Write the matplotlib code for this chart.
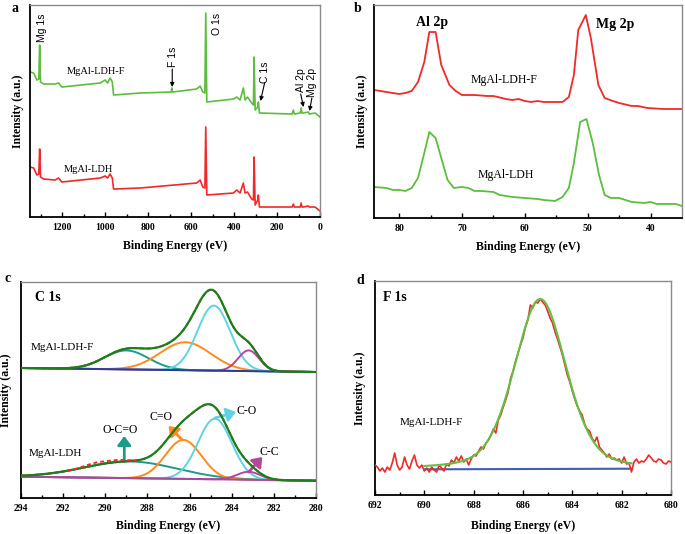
import numpy as np
import matplotlib
matplotlib.use('Agg')
import matplotlib.pyplot as plt

plt.rcParams['font.family'] = ['Liberation Serif', 'DejaVu Serif']

# ---------------- Panel a: survey spectra ----------------
a_e_f = [1349, 1333, 1318, 1309, 1305, 1301, 1287, 1233, 1217, 1202,
         1023, 1000, 989, 977, 967, 961, 837, 693, 690, 687,
         574, 558, 546, 536, 532, 527, 403, 388, 372, 357,
         349, 338, 318, 310, 307, 302, 290, 287, 282, 130,
         124, 120, 92, 88, 84, 78, 54, 50, 23, 0]
a_i_f = [145, 144, 137, 138, 172, 135, 133, 133, 134, 130,
         134, 137, 134, 139, 135, 122, 124, 125, 129, 125,
         128, 131, 125, 124, 204, 115, 118, 120, 117, 129,
         117, 120, 114, 112, 160, 107, 110, 115, 104, 103,
         107, 103, 104, 109, 104, 104, 105, 103, 104, 100]
a_e_l = [1349, 1333, 1318, 1309, 1305, 1301, 1287, 1233, 1217, 1202,
         1023, 1000, 989, 977, 967, 961, 837,
         574, 558, 546, 536, 532, 527, 403, 388, 372, 357,
         349, 338, 318, 310, 307, 302, 290, 287, 282, 130,
         124, 120, 92, 88, 84, 78, 54, 50, 23, 0]
a_i_l = [50, 49, 42, 43, 68, 40, 38, 37, 39, 35,
         39, 41, 39, 43, 39, 28, 29,
         34, 37, 30, 29, 90, 22, 24, 27, 24, 34,
         24, 25, 18, 17, 60, 12, 17, 22, 10, 10,
         13, 10, 10, 14, 10, 10, 11, 10, 10, 6]
a_ticks = [1200, 1000, 800, 600, 400, 200, 0]

# ---------------- Panel b: Al 2p / Mg 2p ----------------
b_e_f = [84, 82, 80, 79, 78, 77, 76, 75.2, 74.2, 73.3, 72, 71, 70, 68, 66, 65,
         63, 62, 61, 60, 59, 58, 57, 55, 54, 53, 52.2, 51.5, 50.3, 49.5, 48.3,
         47.3, 46, 45, 43, 42, 40.5, 38, 35]
b_i_f = [128, 126, 124, 125, 127, 136, 156, 186, 186, 153, 133, 127, 123, 123, 122, 122,
         119, 118, 119, 117, 116, 117, 116, 116, 116, 121, 143, 188, 203, 180, 133,
         120, 117, 115, 112, 112, 110, 109, 109]
b_e_l = [84, 82, 81, 80, 79, 78, 77, 76, 75.2, 74.2, 73.3, 72.3, 71.3, 70, 69, 68, 67,
         65, 64, 62, 60, 58, 57, 55.2, 54, 53, 52.2, 51.2, 50.2, 49.2, 48.2, 47.3,
         46.3, 45, 43, 41, 40, 39, 37, 36, 35]
b_i_l = [31, 30, 28, 28, 27, 30, 40, 65, 86, 80, 60, 38, 30, 31, 30, 27, 27,
         26, 23, 21, 20, 19, 18, 17, 21, 30, 55, 96, 99, 75, 43, 23,
         20, 20, 16, 15, 16, 14, 14, 14, 12]
b_ticks = [80, 70, 60, 50, 40]

# ---------------- Panel c: C 1s fits ----------------
c_names = ['O-C=O', 'C=O', 'C-O', 'C-C']
c_up_base = [130, 126]           # at 294 and 280 eV
c_up_center = [289.0, 286.2, 284.85, 283.2]
c_up_height = [19, 28, 65, 20.7]
c_up_sigma = [1.05, 1.2, 0.78, 0.5]
c_lo_base = [21.3, 17.3]
c_lo_center = [288.8, 286.3, 284.8, 283.2]
c_lo_height = [16.7, 39, 60.7, 8]
c_lo_sigma = [2.2, 0.85, 0.8, 0.55]
c_raw_lo_e = [291.8, 291.3, 290.85, 290.4, 289.9, 289.45, 289.0, 288.5]
c_raw_lo_i = [27.3, 29.7, 33, 35.7, 37, 38, 38, 37]
c_ticks = [294, 292, 290, 288, 286, 284, 282, 280]

# ---------------- Panel d: F 1s ----------------
d_e = [692.0, 691.9, 691.8, 691.7, 691.6, 691.5, 691.4, 691.3, 691.2, 691.1,
       691.0, 690.9, 690.8, 690.7, 690.6, 690.5, 690.4, 690.3, 690.2, 690.1,
       690.0, 689.9, 689.8, 689.7, 689.6, 689.5, 689.4, 689.3, 689.2, 689.1,
       689.0, 688.9, 688.8, 688.7, 688.6, 688.5, 688.4, 688.3, 688.2, 688.1,
       688.0, 687.9, 687.8, 687.7, 687.6, 687.5, 687.4, 687.3, 687.2, 687.1,
       687.0, 686.9, 686.8, 686.7, 686.6, 686.5, 686.4, 686.3, 686.2, 686.1,
       686.0, 685.9, 685.8, 685.7, 685.6, 685.5, 685.4, 685.3, 685.2, 685.1,
       685.0, 684.9, 684.8, 684.7, 684.6, 684.5, 684.4, 684.3, 684.2, 684.1,
       684.0, 683.9, 683.8, 683.7, 683.6, 683.5, 683.4, 683.3, 683.2, 683.1,
       683.0, 682.9, 682.8, 682.7, 682.6, 682.5, 682.4, 682.3, 682.2, 682.1,
       682.0, 681.9, 681.8, 681.7, 681.6, 681.5, 681.4, 681.3, 681.2, 681.1,
       681.0, 680.9, 680.8, 680.7, 680.6, 680.5, 680.4, 680.3, 680.2, 680.1, 680.0]
d_i = [30, 28, 24, 27, 23, 28, 25, 32, 42, 30,
       25, 28, 38, 30, 26, 34, 40, 30, 27, 30,
       24, 27, 23, 28, 25, 23, 30, 27, 24, 31,
       29, 35, 32, 38, 34, 39, 33, 36, 30, 36,
       40, 39, 44, 48, 46, 52, 55, 60, 66, 62,
       75, 80, 88, 95, 103, 117, 124, 134, 142, 150,
       157, 168, 175, 190, 187, 193, 192, 196, 193, 190,
       184, 177, 172, 163, 156, 148, 140, 130, 120, 113,
       104, 96, 89, 84, 80, 71, 66, 64, 57, 53,
       58, 48, 45, 42, 38, 41, 36, 37, 35, 36,
       32, 38, 31, 32, 23, 33, 36, 32, 34, 33,
       36, 40, 37, 34, 33, 36, 35, 32, 31, 34, 33]
d_fit_center = 685.3
d_fit_height = 170
d_fit_hwhm = 1.24
d_fit_eta = 0.3
d_fit_range = [690.0, 681.6]
d_base = [25.7, 26.3]
d_ticks = [692, 690, 688, 686, 684, 682, 680]

# ---------------- styling ----------------
RED = '#f02a2a'
GREEN = '#5cbd3f'
SANS = ['Liberation Sans', 'DejaVu Sans']

fig = plt.figure(figsize=(6.85, 5.34), dpi=100)
axa = fig.add_axes([0.0438, 0.5936, 0.4234, 0.397])
axb = fig.add_axes([0.546, 0.5918, 0.4496, 0.3988])
axc = fig.add_axes([0.0307, 0.0674, 0.4307, 0.4045])
axd = fig.add_axes([0.5474, 0.0730, 0.4321, 0.4007])


def style(ax, ticks, minor, xlim, ylim, xl, yl):
    ax.set_xlim(*xlim)
    ax.set_ylim(*ylim)
    for s in ['left', 'bottom']:
        ax.spines[s].set_color('black')
        ax.spines[s].set_linewidth(1.3)
    for s in ['top', 'right']:
        ax.spines[s].set_color('#8a8a8a')
        ax.spines[s].set_linewidth(1.0)
    ax.set_xticks(ticks)
    ax.set_xticklabels([str(t) for t in ticks], fontweight='bold', fontsize=7)
    ax.set_xticks(minor, minor=True)
    ax.tick_params(axis='x', which='both', direction='in', top=False, pad=4)
    ax.tick_params(axis='x', which='major', length=3.5, width=1)
    ax.tick_params(axis='x', which='minor', length=2.5, width=1)
    ax.set_yticks([])
    ax.set_xlabel('Binding Energy (eV)', fontweight='bold', fontsize=8.5)
    ax.set_ylabel('Intensity (a.u.)', fontweight='bold', fontsize=8.5)
    ax.xaxis.set_label_coords(0.5, xl)
    ax.xaxis.label.set_va('center')
    ax.yaxis.set_label_coords(yl, 0.5)
    ax.yaxis.label.set_va('center')


# Panel a
axa.plot(a_e_f, a_i_f, color=GREEN, lw=1.2)
axa.plot(a_e_l, a_i_l, color=RED, lw=1.2)
style(axa, a_ticks, list(range(1300, -1, -100)), (1350, 0), (0, 212), -0.135, -0.041)
axa.text(1042, 146, 'MgAl-LDH-F', fontsize=7.5, ha='center', va='center')
axa.text(1079, 48, 'MgAl-LDH', fontsize=7.5, ha='center', va='center')
axa.text(1295, 189, 'Mg 1s', rotation=90, ha='center', va='center', fontsize=7.5, family=SANS)
axa.text(480, 193, 'O 1s', rotation=90, ha='center', va='center', fontsize=7.5, family=SANS)
axa.text(686, 160, 'F 1s', rotation=90, ha='center', va='center', fontsize=7.5, family=SANS)
axa.text(256, 145, 'C 1s', rotation=90, ha='center', va='center', fontsize=7.5, family=SANS)
axa.text(90, 137, 'Al 2p', rotation=90, ha='center', va='center', fontsize=7.5, family=SANS)
axa.text(36, 135, 'Mg 2p', rotation=90, ha='center', va='center', fontsize=7.5, family=SANS)
arr = dict(arrowstyle='-|>', color='black', lw=0.8, mutation_scale=6, shrinkA=0, shrinkB=0)
axa.annotate('', xy=(688, 130), xytext=(688, 148), arrowprops=arr)
axa.annotate('', xy=(277, 116), xytext=(258, 134), arrowprops=arr)
axa.annotate('', xy=(77, 110), xytext=(90, 123), arrowprops=arr)
axa.annotate('', xy=(49, 106), xytext=(38, 119), arrowprops=arr)

# Panel b
axb.plot(b_e_f, b_i_f, color=RED, lw=1.3)
axb.plot(b_e_l, b_i_l, color=GREEN, lw=1.3)
style(axb, b_ticks, [75, 65, 55, 45], (84, 35), (0, 213), -0.136, -0.039)
axb.text(74.7, 196, 'Al 2p', fontsize=10, fontweight='bold', ha='center', va='center')
axb.text(45.7, 194, 'Mg 2p', fontsize=10, fontweight='bold', ha='center', va='center')
axb.text(63.3, 138, 'MgAl-LDH-F', fontsize=8.5, ha='center', va='center')
axb.text(63.1, 43, 'MgAl-LDH', fontsize=8.5, ha='center', va='center')

# Panel c
c_cols = ['#1f9a8a', '#ff8a1e', '#5fd3e3', '#b2479b']
xg = np.linspace(294, 280, 700)


def comps(base, cen, hei, sig):
    bl = np.interp(xg, [280, 294], [base[1], base[0]])
    cs = [h * np.exp(-(xg - c) ** 2 / (2 * s ** 2)) for c, h, s in zip(cen, hei, sig)]
    return bl, cs


for base, cen, hei, sig, bcol, bz in [(c_up_base, c_up_center, c_up_height, c_up_sigma, '#2a3f94', 3.5),
                                      (c_lo_base, c_lo_center, c_lo_height, c_lo_sigma, '#a64aa0', 3.5)]:
    bl, cs = comps(base, cen, hei, sig)
    env = bl + np.sum(cs, axis=0)
    axc.plot([294, 280], base, color=bcol, lw=1.4, zorder=bz)
    for comp, col in zip(cs, c_cols):
        axc.plot(xg, bl + comp, color=col, lw=1.4, zorder=3)
    axc.plot(xg, env, color=RED, lw=1.4, ls=(0, (2, 1.5)), zorder=4)
    axc.plot(xg, env, color='#1b7f1b', lw=1.6, zorder=5)
axc.plot(c_raw_lo_e, c_raw_lo_i, color=RED, lw=1.4, ls=(0, (2, 1.5)), zorder=6)
style(axc, c_ticks, list(range(293, 280, -2)), (294, 280), (0, 216), -0.13, -0.051)
axc.text(293.35, 201, 'C 1s', fontsize=10, fontweight='bold', ha='left', va='center')
axc.text(293.55, 151, 'MgAl-LDH-F', fontsize=8, ha='left', va='center')
axc.text(293.65, 45, 'MgAl-LDH', fontsize=8, ha='left', va='center')
axc.text(289.3, 68, 'O-C=O', fontsize=8.5, ha='center', va='center')
axc.text(287.37, 81, 'C=O', fontsize=8.5, ha='center', va='center')
axc.text(283.3, 87, 'C-O', fontsize=8.5, ha='center', va='center')
axc.text(282.2, 46, 'C-C', fontsize=8.5, ha='center', va='center')


def fat(col):
    return dict(arrowstyle='-|>,head_width=0.45,head_length=0.6', color=col, lw=2,
                mutation_scale=9, shrinkA=0, shrinkB=0)


axc.annotate('', xy=(289.1, 62), xytext=(289.1, 37), arrowprops=fat(c_cols[0]))
axc.annotate('', xy=(287.0, 72), xytext=(286.35, 58), arrowprops=fat(c_cols[1]))
axc.annotate('', xy=(283.8, 86), xytext=(284.8, 80), arrowprops=fat(c_cols[2]))
axc.annotate('', xy=(282.55, 41), xytext=(283.2, 26), arrowprops=fat(c_cols[3]))

# Panel d
axd.plot(d_e, d_i, color=RED, lw=1.2, zorder=3)
xf = np.linspace(d_fit_range[0], d_fit_range[1], 400)
u = (xf - d_fit_center) / d_fit_hwhm
prof = d_fit_eta / (1 + u ** 2) + (1 - d_fit_eta) * np.exp(-np.log(2) * u ** 2)
axd.plot(xf, np.interp(xf, [d_fit_range[1], d_fit_range[0]], [d_base[1], d_base[0]]) + d_fit_height * prof,
         color='#62c043', lw=1.5, zorder=4)
axd.plot(d_fit_range, d_base, color='#3f5fb0', lw=1.5, zorder=2)
style(axd, d_ticks, list(range(691, 680, -2)), (692, 680), (0, 214), -0.145, -0.051)
axd.text(691.66, 198, 'F 1s', fontsize=10, fontweight='bold', ha='left', va='center')
axd.text(691.0, 73, 'MgAl-LDH-F', fontsize=8, ha='left', va='center')

# panel letters
for lab, x, y in [('a', 15, 8), ('b', 358, 8), ('c', 8, 278), ('d', 360, 280)]:
    fig.text(x / 685, 1 - y / 534, lab, fontsize=10, fontweight='bold', ha='center', va='center')

fig.savefig('out.png', dpi=100)
